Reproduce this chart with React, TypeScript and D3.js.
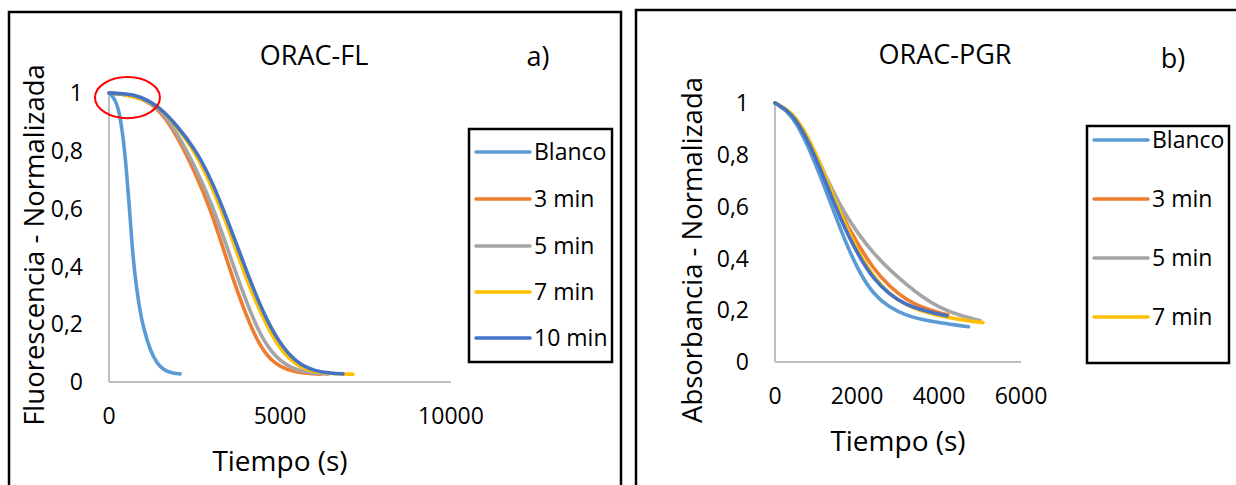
import React from 'react';
import * as d3 from 'd3';

const seriesNames = ['Blanco', '3 min', '5 min', '7 min', '10 min'];
const seriesColors = ['#5B9BD5', '#ED7D31', '#A5A5A5', '#FFC000', '#4472C4'];

// ORAC-FL (tiempo en s, fluorescencia normalizada)
const flBlancoT = [0, 100, 200, 300, 400, 500, 600, 700, 800, 900, 1000, 1200, 1400, 1600, 1800, 2080];
const flBlancoV = [1, 0.99, 0.97, 0.935, 0.86, 0.75, 0.6, 0.43, 0.33, 0.25, 0.19, 0.11, 0.065, 0.042, 0.032, 0.028];
const fl3T = [0, 500, 1000, 1500, 2000, 2500, 3000, 3500, 4000, 4500, 5000, 5500, 6000, 6200];
const fl3V = [1, 0.995, 0.98, 0.94, 0.85, 0.73, 0.59, 0.4, 0.23, 0.1, 0.05, 0.033, 0.028, 0.027];
const fl5T = [0, 500, 1000, 1500, 2000, 2500, 3000, 3500, 4000, 4500, 5000, 5500, 6000, 6400];
const fl5V = [1, 0.995, 0.98, 0.945, 0.86, 0.75, 0.62, 0.45, 0.28, 0.14, 0.07, 0.04, 0.03, 0.027];
const fl7T = [0, 500, 1000, 1500, 2000, 2500, 3000, 3500, 4000, 4500, 5000, 5500, 6000, 6500, 7135];
const fl7V = [1, 0.995, 0.98, 0.95, 0.88, 0.8, 0.68, 0.53, 0.36, 0.22, 0.11, 0.055, 0.035, 0.029, 0.027];
const fl10T = [0, 500, 900, 1500, 2000, 2500, 3000, 3500, 4000, 4500, 5000, 5500, 6000, 6500, 6840];
const fl10V = [1, 0.997, 0.99, 0.95, 0.885, 0.81, 0.7, 0.55, 0.39, 0.24, 0.13, 0.065, 0.038, 0.03, 0.028];

// ORAC-PGR (tiempo en s, absorbancia normalizada)
const pgrBlancoT = [0, 400, 800, 1200, 1600, 2000, 2400, 2800, 3200, 3600, 4000, 4400, 4720];
const pgrBlancoV = [1, 0.96, 0.84, 0.68, 0.51, 0.36, 0.26, 0.21, 0.18, 0.163, 0.152, 0.143, 0.136];
const pgr3T = [0, 400, 800, 1200, 1600, 2000, 2400, 2800, 3200, 3600, 4000, 4220];
const pgr3V = [1, 0.965, 0.86, 0.72, 0.575, 0.46, 0.36, 0.29, 0.24, 0.21, 0.19, 0.182];
const pgr5T = [0, 400, 800, 1200, 1600, 2000, 2400, 2800, 3200, 3600, 4000, 4500, 5000];
const pgr5V = [1, 0.965, 0.87, 0.73, 0.6, 0.5, 0.42, 0.355, 0.3, 0.25, 0.21, 0.18, 0.16];
const pgr7T = [0, 400, 800, 1200, 1600, 2000, 2400, 2800, 3200, 3600, 4000, 4500, 5070];
const pgr7V = [1, 0.97, 0.875, 0.73, 0.57, 0.43, 0.33, 0.26, 0.22, 0.195, 0.178, 0.164, 0.152];
const pgr10T = [0, 400, 800, 1200, 1600, 2000, 2400, 2800, 3200, 3600, 4000, 4190];
const pgr10V = [1, 0.965, 0.86, 0.71, 0.55, 0.42, 0.32, 0.26, 0.22, 0.2, 0.185, 0.178];

const yTicks = [0, 0.2, 0.4, 0.6, 0.8, 1];
const flXTicks = [0, 5000, 10000];
const pgrXTicks = [0, 2000, 4000, 6000];

// red circle highlighting the plateau (data units)
const flHighlight = { t: 540, v: 0.984, rt: 950, rv: 0.071 };

const FONT = "'Open Sans', sans-serif";
const fmt = (d: number) => String(d).replace('.', ',');

type PanelProps = {
  frame: [number, number, number, number];
  xRange: [number, number];
  yRange: [number, number];
  xMax: number;
  xTicks: number[];
  ts: number[][];
  vs: number[][];
  legendCount: number;
  legendBox: [number, number, number, number];
  legendYs: number[];
  title: string;
  titlePos: [number, number];
  tag: string;
  tagPos: [number, number];
  yTitle: string;
  yTitlePos: [number, number];
  highlight?: { t: number; v: number; rt: number; rv: number };
};

const Panel = (p: PanelProps) => {
  const x = d3.scaleLinear().domain([0, p.xMax]).range(p.xRange);
  const y = d3.scaleLinear().domain([0, 1]).range(p.yRange);
  const line = d3
    .line<[number, number]>()
    .x((d) => x(d[0]))
    .y((d) => y(d[1]))
    .curve(d3.curveBasis);
  const [fx, fy, fw, fh] = p.frame;
  const [lx, ly, lw, lh] = p.legendBox;
  const x0 = p.xRange[0];
  const yBase = p.yRange[0];

  return (
    <g>
      <rect x={fx} y={fy} width={fw} height={fh} fill="#fff" stroke="#000" strokeWidth={2.5} />
      <line x1={x0} x2={x0} y1={y(1)} y2={yBase} stroke="#BFBFBF" strokeWidth={2} />
      <line x1={x0} x2={p.xRange[1]} y1={yBase} y2={yBase} stroke="#BFBFBF" strokeWidth={2} />
      {yTicks.map((t) => (
        <text key={t} x={x0 - 26} y={y(t)} dy="0.36em" textAnchor="end" fontSize={23} fontFamily={FONT}>
          {fmt(t)}
        </text>
      ))}
      {p.xTicks.map((t) => (
        <text key={t} x={x(t)} y={yBase + 34} dy="0.36em" textAnchor="middle" fontSize={23} fontFamily={FONT}>
          {t}
        </text>
      ))}
      {p.ts.map((tt, i) => (
        <path
          key={i}
          d={line(tt.map((t, j) => [t, p.vs[i][j]] as [number, number])) || ''}
          fill="none"
          stroke={seriesColors[i]}
          strokeWidth={3.6}
          strokeLinecap="round"
          strokeLinejoin="round"
        />
      ))}
      {p.highlight && (
        <ellipse
          cx={x(p.highlight.t)}
          cy={y(p.highlight.v)}
          rx={x(p.highlight.rt) - x(0)}
          ry={y(0) - y(p.highlight.rv)}
          fill="none"
          stroke="#FF0000"
          strokeWidth={2}
        />
      )}
      <text x={p.titlePos[0]} y={p.titlePos[1]} dy="0.36em" textAnchor="middle" fontSize={27} fontFamily={FONT}>
        {p.title}
      </text>
      <text x={p.tagPos[0]} y={p.tagPos[1]} dy="0.36em" textAnchor="middle" fontSize={27} fontFamily={FONT}>
        {p.tag}
      </text>
      <text
        x={(p.xRange[0] + p.xRange[1]) / 2}
        y={yBase + 79}
        dy="0.36em"
        textAnchor="middle"
        fontSize={28}
        fontFamily={FONT}
      >
        Tiempo (s)
      </text>
      <text
        transform={`translate(${p.yTitlePos[0]},${p.yTitlePos[1]}) rotate(-90)`}
        dy="0.36em"
        textAnchor="middle"
        fontSize={27.5}
        fontFamily={FONT}
      >
        {p.yTitle}
      </text>
      <rect x={lx} y={ly} width={lw} height={lh} fill="#fff" stroke="#000" strokeWidth={2.5} />
      {seriesNames.slice(0, p.legendCount).map((name, i) => (
        <g key={name}>
          <line
            x1={lx + 7}
            x2={lx + 61}
            y1={p.legendYs[i]}
            y2={p.legendYs[i]}
            stroke={seriesColors[i]}
            strokeWidth={3.6}
            strokeLinecap="round"
          />
          <text x={lx + 65} y={p.legendYs[i]} dy="0.36em" fontSize={23} fontFamily={FONT}>
            {name}
          </text>
        </g>
      ))}
    </g>
  );
};

export default function App() {
  return (
    <svg width={1236} height={485} style={{ position: 'absolute', left: 0, top: 0, background: '#fff' }}>
      <Panel
        frame={[9, 12, 612, 490]}
        xRange={[109, 451]}
        yRange={[382, 93]}
        xMax={10000}
        xTicks={flXTicks}
        ts={[flBlancoT, fl3T, fl5T, fl7T, fl10T]}
        vs={[flBlancoV, fl3V, fl5V, fl7V, fl10V]}
        legendCount={5}
        legendBox={[469, 129, 143, 233]}
        legendYs={[152, 199, 246, 292, 338]}
        title="ORAC-FL"
        titlePos={[314, 55]}
        tag="a)"
        tagPos={[538, 56]}
        yTitle="Fluorescencia - Normalizada"
        yTitlePos={[34, 245]}
        highlight={flHighlight}
      />
      <Panel
        frame={[636, 10, 620, 490]}
        xRange={[775, 1021]}
        yRange={[362, 103]}
        xMax={6000}
        xTicks={pgrXTicks}
        ts={[pgrBlancoT, pgr3T, pgr5T, pgr7T, pgr10T]}
        vs={[pgrBlancoV, pgr3V, pgr5V, pgr7V, pgr10V]}
        legendCount={4}
        legendBox={[1087, 126, 142, 237]}
        legendYs={[140, 199, 258, 317]}
        title="ORAC-PGR"
        titlePos={[945, 54]}
        tag="b)"
        tagPos={[1173, 58]}
        yTitle="Absorbancia - Normalizada"
        yTitlePos={[692, 250]}
      />
    </svg>
  );
}
